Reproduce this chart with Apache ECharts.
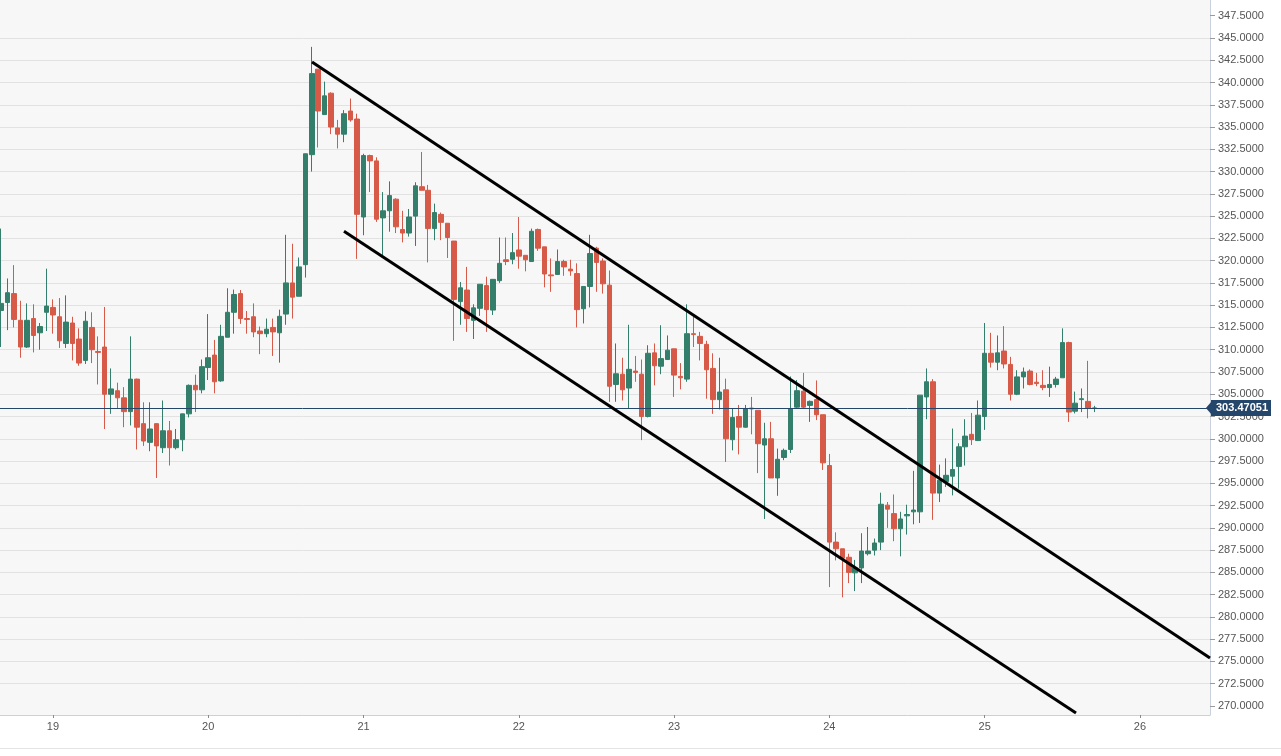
<!DOCTYPE html>
<html>
<head>
<meta charset="utf-8">
<script src="https://cdn.jsdelivr.net/npm/echarts@6/dist/echarts.min.js"></script>
<style>
html,body{margin:0;padding:0;background:#ffffff;}
#chart{width:1281px;height:756px;}
</style>
</head>
<body>
<div id="chart"></div>
<script>
// Hourly candles, first candle = 18th 16:00, index 8 = 19th 00:00
// each row: [open, close, low, high]
const ohlc = [
  [314.4,315.2,310.3,323.6],[315.3,316.4,312.2,318.0],[316.3,313.4,312.5,319.5],[313.3,310.3,309.1,315.5],
  [310.3,313.3,310.2,315.2],[313.5,311.6,309.7,315.1],[311.9,312.6,310.0,313.0],[314.2,314.9,312.1,319.1],
  [314.75,313.9,311.8,315.65],[313.7,311.0,310.2,315.8],[310.7,313.1,310.2,316.1],[313.0,310.7,308.8,313.7],
  [311.2,308.5,308.2,312.4],[308.8,313.2,308.4,314.3],[312.5,310.0,308.5,314.2],[309.8,309.7,306.1,311.5],
  [310.3,305.0,301.1,314.8],[305.0,305.6,302.8,307.9],[305.4,304.6,303.4,306.3],[304.6,303.05,301.3,305.8],
  [303.05,306.7,301.5,311.5],[306.7,301.3,298.8,306.75],[301.7,299.75,299.2,304.1],[299.6,301.1,298.6,304.1],
  [301.7,299.2,295.6,301.75],[299.0,300.9,298.4,304.3],[300.9,299.0,297.0,302.0],[299.0,299.9,298.8,301.1],
  [299.9,302.8,298.6,302.8],[302.8,306.0,302.4,306.1],[306.0,305.5,303.0,307.2],[305.5,308.1,305.1,308.9],
  [308.0,309.1,306.6,314.0],[309.4,306.4,305.1,311.1],[306.5,311.5,306.4,312.8],[311.4,314.2,311.4,316.9],
  [314.2,316.2,311.8,316.75],[316.3,313.5,312.9,316.7],[313.5,313.4,311.8,314.35],[313.7,312.0,311.4,315.2],
  [312.1,311.8,309.5,312.6],[311.8,312.3,311.4,313.5],[312.5,312.0,309.3,313.5],[311.9,313.75,308.55,314.5],
  [314.0,317.5,312.8,322.9],[317.5,315.9,313.5,321.9],[316.0,319.3,316.0,320.35],[319.55,332.0,318.1,332.0],
  [331.9,341.0,330.0,344.0],[341.5,336.8,332.7,341.5],[336.4,338.5,336.4,340.1],[338.8,335.0,334.2,338.9],
  [334.9,334.2,332.6,335.8],[334.2,336.5,333.3,336.9],[336.8,335.8,335.6,338.2],[335.9,325.2,320.2,336.5],
  [324.9,331.8,322.85,332.0],[331.8,331.2,327.7,331.9],[331.2,324.65,324.35,331.6],[324.8,325.6,320.6,327.7],
  [325.6,327.3,323.25,328.9],[326.9,323.8,323.1,327.0],[323.5,323.1,322.05,325.6],[323.1,324.9,322.7,325.8],
  [325.0,328.4,321.65,328.8],[328.3,327.9,327.9,332.2],[327.9,323.6,319.8,328.5],[323.6,325.4,322.3,326.4],
  [325.2,324.3,322.3,325.4],[324.2,322.6,320.3,324.2],[322.2,315.65,311.0,322.2],[315.4,316.95,312.8,317.6],
  [316.7,313.5,312.0,319.3],[313.3,314.7,311.2,315.1],[314.65,317.35,313.8,317.35],[317.2,314.5,312.0,318.2],
  [314.45,317.9,313.9,317.9],[317.75,319.7,317.5,322.6],[320.1,319.9,319.5,322.6],[320.15,320.9,319.6,323.1],
  [321.2,320.5,319.1,324.9],[320.6,320.1,318.8,320.6],[319.9,323.3,319.9,323.6],[323.5,321.4,321.1,323.6],
  [321.55,318.5,317.0,321.55],[318.4,318.3,316.5,320.25],[318.45,319.9,318.4,321.25],[319.9,319.3,318.3,320.1],
  [319.05,318.85,318.3,320.1],[318.55,314.5,312.5,319.7],[314.6,317.1,312.95,317.1],[317.1,320.8,314.75,322.9],
  [321.4,319.8,316.5,321.55],[319.95,317.4,316.3,320.25],[317.25,305.9,304.15,318.9],[306.1,307.3,304.15,310.7],
  [307.25,305.5,304.3,309.1],[305.7,307.8,303.4,312.8],[307.6,307.45,306.4,309.3],[307.25,302.5,299.85,308.9],
  [302.5,309.6,302.4,310.5],[309.65,308.2,306.0,310.7],[308.15,309.0,307.25,312.75],[308.9,309.95,308.85,311.6],
  [310.1,307.15,304.7,310.1],[307.0,306.85,305.55,308.5],[306.7,311.8,306.4,315.1],[311.8,311.7,310.3,313.7],
  [311.5,310.7,308.8,312.0],[310.6,307.75,304.5,311.0],[307.9,304.4,302.8,309.6],[304.4,305.25,303.3,309.1],
  [305.5,300.0,297.4,306.75],[299.9,302.4,298.7,303.4],[302.5,301.3,298.25,303.8],[301.3,303.4,301.25,303.8],
  [303.45,303.35,300.5,304.7],[303.2,299.45,296.15,303.2],[299.3,300.0,291.0,301.8],[300.0,295.6,295.6,301.9],
  [295.6,297.7,293.6,298.9],[297.9,298.7,297.6,298.9],[298.8,303.4,298.4,307.0],[303.55,305.4,303.4,306.6],
  [305.35,303.55,303.4,307.4],[303.75,304.2,301.9,304.3],[304.4,302.7,302.1,306.55],[302.7,297.3,296.5,302.7],
  [297.0,288.4,283.35,298.3],[288.4,287.65,286.35,289.5],[287.65,286.6,282.2,287.65],[286.7,285.0,283.8,287.1],
  [284.95,285.5,282.9,286.4],[285.5,287.4,283.8,289.4],[287.1,287.4,286.9,290.1],[287.5,288.3,286.9,288.8],
  [288.4,292.65,287.5,293.95],[292.55,292.1,290.0,292.9],[291.6,289.9,288.5,293.75],[289.9,291.0,286.8,291.8],
  [291.35,291.5,289.25,292.6],[291.8,292.0,290.4,296.4],[291.8,304.9,290.55,304.9],[304.7,306.4,302.2,307.9],
  [306.4,293.9,290.9,306.7],[293.9,295.35,292.9,297.1],[295.2,295.9,294.6,297.8],[295.8,296.55,293.65,301.15],
  [296.9,299.1,294.4,299.5],[299.1,300.3,297.0,302.2],[300.5,299.9,299.3,302.9],[299.8,302.65,299.8,304.3],
  [302.5,309.6,301.0,313.0],[309.6,308.6,308.0,311.9],[308.6,309.65,307.7,311.6],[309.85,308.4,307.9,312.65],
  [308.35,305.0,304.3,309.2],[305.0,306.95,304.9,307.7],[306.95,307.5,305.65,308.0],[307.6,306.1,306.0,307.8],
  [306.35,306.2,305.9,307.4],[306.0,305.75,305.45,307.7],[305.75,306.1,304.7,308.1],[306.1,306.7,305.75,306.95],
  [306.85,310.8,306.85,312.4],[310.8,303.0,301.9,310.9],[303.1,304.0,302.85,305.3],[304.4,304.5,303.0,305.65],
  [304.2,303.4,302.3,308.75],[303.4,303.47051,303.0,303.7]
];
const lastPrice = 303.47051;
const dayLabels = ['19','20','21','22','23','24','25','26'];
const dayStartIndex = [8,32,56,80,104,128,152,176];
const priceTicks = [270,272.5,275,277.5,280,282.5,285,287.5,290,292.5,295,297.5,300,302.5,305,307.5,310,312.5,315,317.5,320,322.5,325,327.5,330,332.5,335,337.5,340,342.5,345,347.5];
// trend channel: [candle index, price]
const upperTrend = [[48.04, 342.3],[186.83, 275.4]];
const lowerTrend = [[52.98, 323.3],[166.12, 269.21]];

const GREEN = '#337f6b';
const RED = '#d65a47';
const NAVY = '#25466b';

const xMin = -0.185, xMax = 186.83;
const yTop = 349.2626;
const chart = echarts.init(document.getElementById('chart'), null, {renderer:'canvas'});
const option = {
  animation:false,
  textStyle:{fontFamily:'"Liberation Sans", Arial, sans-serif'},
  graphic:[{type:'rect', silent:true, shape:{x:0,y:748,width:1281,height:1}, style:{fill:'#e4e4e4'}}],
  grid:[
    {left:0, top:0, width:1210, height:715, show:true, backgroundColor:'#f7f7f7', borderWidth:0},
    {left:0, top:0, width:1210, height:728.27, show:false}
  ],
  xAxis:[
    {gridIndex:0, type:'value', min:xMin, max:xMax,
     axisLine:{show:true, onZero:false, lineStyle:{color:'#c9d0de', width:1}},
     axisTick:{show:true, length:3, customValues:dayStartIndex, lineStyle:{color:'#8a8a8a'}},
     axisLabel:{customValues:dayStartIndex, color:'#555', fontSize:11, margin:6,
       formatter:v=>dayLabels[dayStartIndex.indexOf(Math.round(v))]},
     splitLine:{show:false}},
    {gridIndex:1, type:'value', min:xMin, max:xMax, show:false,
     axisLine:{onZero:false}}
  ],
  yAxis:[
    {gridIndex:0, type:'value', position:'right', min:268.99, max:yTop,
     axisLine:{show:true, onZero:false, lineStyle:{color:'#c9d0de'}}, axisTick:{show:false}, axisLabel:{show:false}, splitLine:{show:false}},
    {gridIndex:1, type:'value', position:'right', min:267.5, max:yTop, interval:2.5,
     axisLine:{show:false, onZero:false},
     axisTick:{show:true, length:5, customValues:priceTicks, lineStyle:{color:'#9a9a9a'}},
     axisLabel:{color:'#555', fontSize:11, margin:8, showMinLabel:false, showMaxLabel:false,
       formatter:v=>v.toFixed(4)},
     splitLine:{show:true, showMinLine:false, showMaxLine:false, lineStyle:{color:'#e2e2e2', width:1}}}
  ],
  series:[
    {type:'candlestick', xAxisIndex:0, yAxisIndex:0, barWidth:5,
     data: ohlc.map((d,i)=>[i, d[0], d[1], d[2], d[3]]),
     itemStyle:{color:GREEN, color0:RED, borderColor:GREEN, borderColor0:RED, borderWidth:1},
     markLine:{silent:true, symbol:'none', animation:false,
       lineStyle:{color:NAVY, width:1, type:'solid'},
       label:{show:true, position:'end', distance:1, formatter:String(lastPrice),
         backgroundColor:NAVY, color:'#fff', fontWeight:'bold', fontSize:11, padding:[3,3,2,5],
         fontFamily:'"Liberation Sans", Arial, sans-serif'},
       data:[{yAxis:lastPrice}]},
     markPoint:{silent:true, animation:false, symbol:'path://M0,5L6,0L6,10Z', symbolSize:[6,14], symbolOffset:[-1,0],
       itemStyle:{color:NAVY}, label:{show:false},
       data:[{coord:[xMax-0.01, lastPrice]}]}
    },
    {type:'line', xAxisIndex:0, yAxisIndex:0, data:upperTrend, symbol:'none', silent:true, z:5,
     lineStyle:{color:'#000', width:3}},
    {type:'line', xAxisIndex:0, yAxisIndex:0, data:lowerTrend, symbol:'none', silent:true, z:5,
     lineStyle:{color:'#000', width:3}}
  ]
};
chart.setOption(option);
</script>
</body>
</html>
